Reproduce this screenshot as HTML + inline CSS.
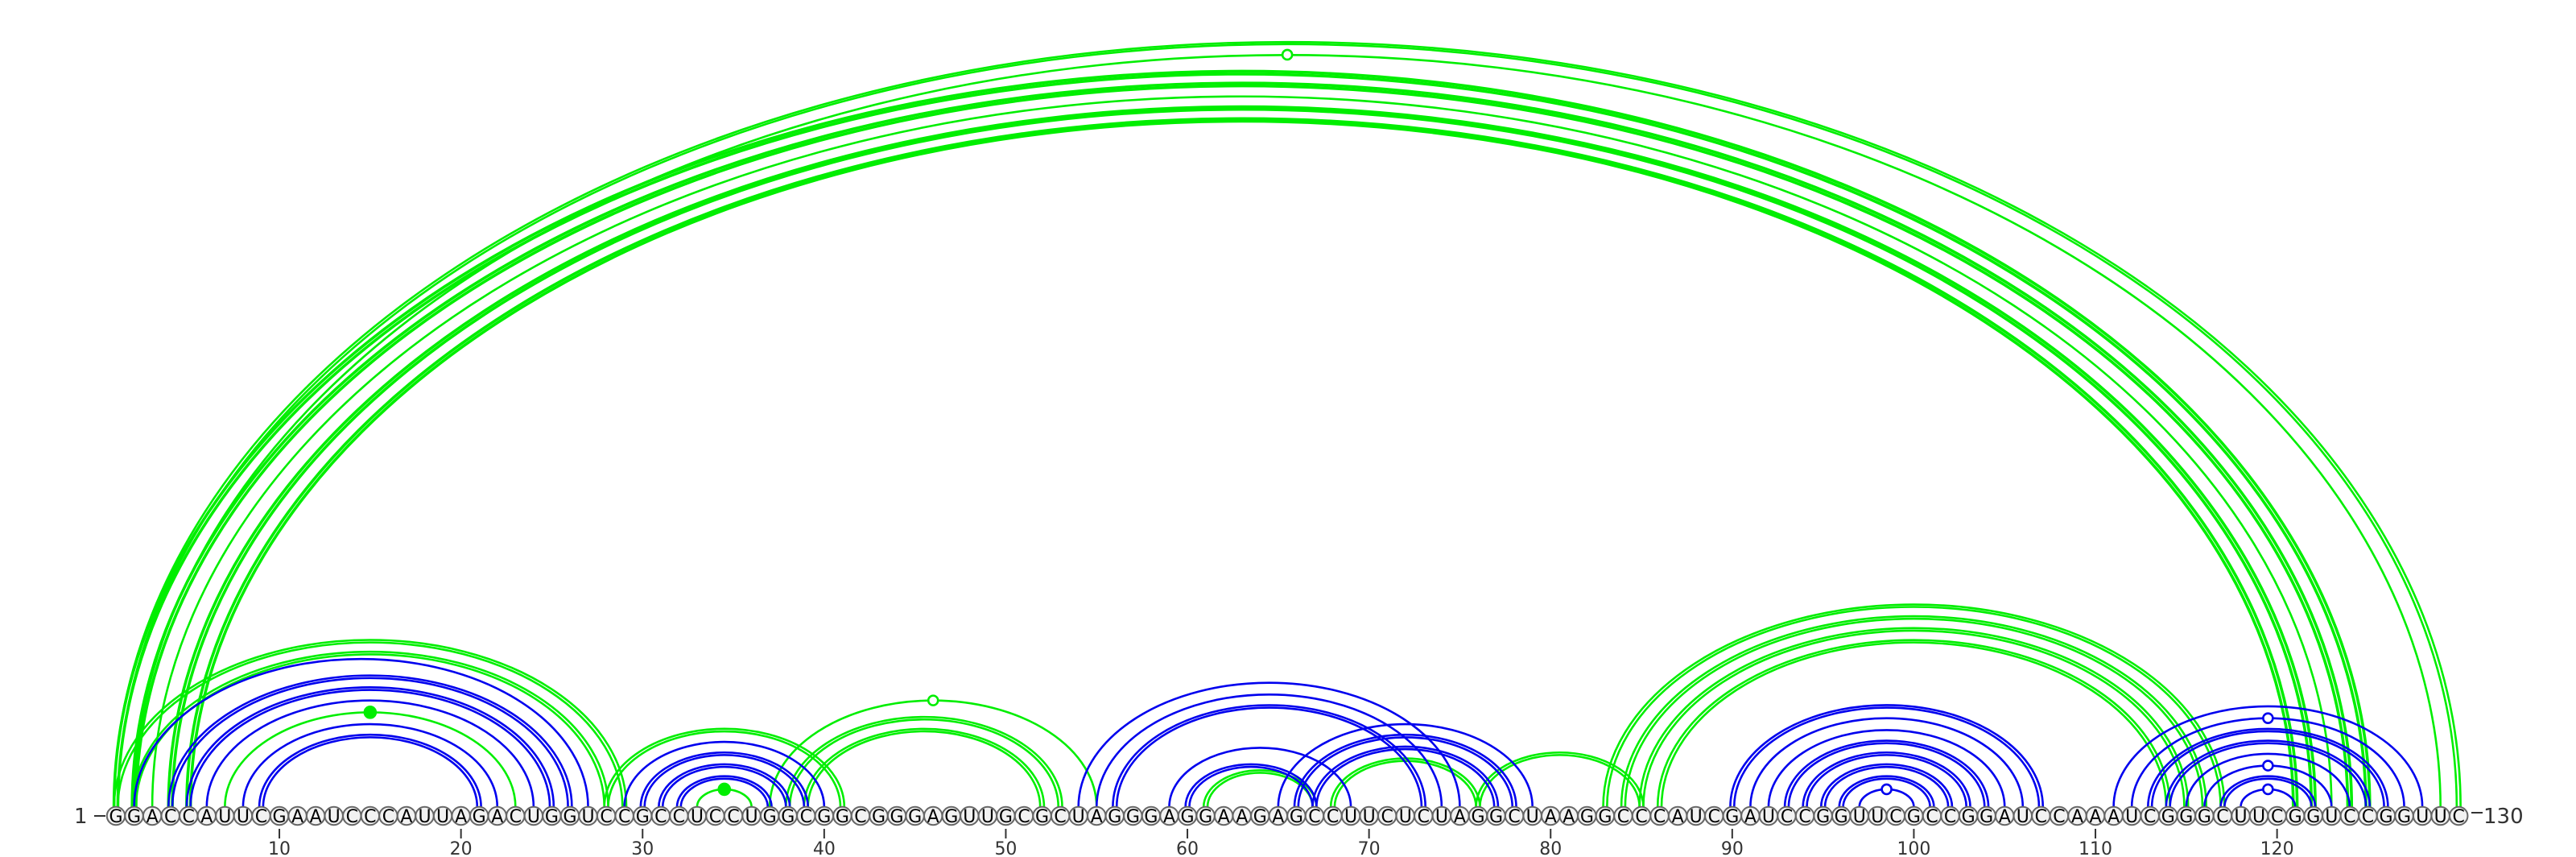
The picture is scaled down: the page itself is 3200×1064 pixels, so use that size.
<!DOCTYPE html>
<html>
<head>
<meta charset="utf-8">
<style>
  html,body{margin:0;padding:0;background:#fff;}
  svg{display:block;}
  text{font-family:"DejaVu Sans","Liberation Sans",sans-serif;}
</style>
</head>
<body>
<svg id="chart" xmlns="http://www.w3.org/2000/svg" width="3200" height="1064" viewBox="0 0 3200 1064">
  <g id="arcs"></g>
  <g id="markers"></g>
  <g id="axis"></g>
  <g id="nts"></g>
</svg>
<script>
const sequence = "GGACCAUUCGAAUCCCAUUAGACUGGUCCGCCUCCUGGCGGCGGGAGUUGCGCUAGGGAGGAAGAGCCUUCUCUAGGCUAAGGCCCAUCGAUCCGGUUCGCCGGAUCCAAAUCGGGCUUCGGUCCGGUUC";
const tickPositions = [10,20,30,40,50,60,70,80,90,100,110,120];
const tickLabels = ["10","20","30","40","50","60","70","80","90","100","110","120"];

// arcs: start, end, color (g/b), double (0/1), thick (0/1), marker
const arcStart = [1,2,1,2,3,4,5, 1,2,7,28,33,37,38,39,61,68,76,83,84,85,86,
  2,4,5,6,8,9, 29,30,31,32, 54,55,56,59,60,65,66,67, 90,91,92,93,94,95,96,97, 111,112,113,114,115,116,117,118];
const arcEnd = [130,129,125,124,123,122,121, 29,28,23,41,36,55,53,52,67,76,85,117,116,115,114,
  27,26,25,24,22,21, 40,39,38,37, 75,74,73,69,67,79,78,77, 107,106,105,104,103,102,101,100, 128,127,126,125,124,123,122,121];
const arcColor = ["g","g","g","g","g","g","g", "g","g","g","g","g","g","g","g","g","g","g","g","g","g","g",
  "b","b","b","b","b","b", "b","b","b","b", "b","b","b","b","b","b","b","b", "b","b","b","b","b","b","b","b", "b","b","b","b","b","b","b","b"];
const arcDouble = [1,0,1,1,0,1,1, 1,1,0,1,0,0,1,1,1,1,1,1,1,1,1,
  0,1,1,0,0,1, 0,1,1,1, 0,0,1,0,1,0,1,1, 1,0,0,1,1,1,1,0, 0,0,1,1,0,0,1,0];
const arcThick = [0,0,1,1,0,1,1, 0,0,0,0,0,0,0,0,0,0,0,0,0,0,0,
  0,0,0,0,0,0, 0,0,0,0, 0,0,0,0,0,0,0,0, 0,0,0,0,0,0,0,0, 0,0,0,0,0,0,0,0];
const arcMarker = ["","open","","","","","", "","","filled","","filled","open","","","","","","","","","",
  "","","","","","", "","","","", "","","","","","","","", "","","","","","","","open", "","open","","","","open","","open"];

const X0 = 144, DX = 22.56, Y0 = 1002, YC = 1013, RATIO = 0.652;
const COLORS = {g:"#00ee00", b:"#0000ee"};
function xScale(i){ return X0 + (i-1)*DX; }
const NS = "http://www.w3.org/2000/svg";
const arcsG = document.getElementById('arcs');
const markG = document.getElementById('markers');
const axisG = document.getElementById('axis');
const ntG = document.getElementById('nts');

function arcPath(x1,x2){
  const rx=(x2-x1)/2, ry=rx*RATIO;
  return `M${x1},${Y0} A${rx},${ry} 0 0 1 ${x2},${Y0}`;
}

for(let k=0;k<arcStart.length;k++){
  const x1=xScale(arcStart[k]), x2=xScale(arcEnd[k]);
  const col=COLORS[arcColor[k]];
  const sw=arcThick[k]?3.6:2.6;
  const offs=arcDouble[k]?[-2.4,2.4]:[0];
  offs.forEach(o=>{
    const p=document.createElementNS(NS,'path');
    p.setAttribute('d',arcPath(x1+o,x2-o));
    p.setAttribute('fill','none');
    p.setAttribute('stroke',col);
    p.setAttribute('stroke-width',sw);
    
    
    arcsG.appendChild(p);
  });
  if(arcMarker[k]){
    const cx=(x1+x2)/2, ry=(x2-x1)/2*RATIO;
    const c=document.createElementNS(NS,'circle');
    c.setAttribute('cx',cx); c.setAttribute('cy',Y0-ry); c.setAttribute('r',arcMarker[k]==='open'?6:7);
    c.setAttribute('fill',arcMarker[k]==='open'?'#fff':col);
    c.setAttribute('stroke',col); c.setAttribute('stroke-width',2.6);
    
    
    markG.appendChild(c);
  }
}

// ticks
for(let t=0;t<tickPositions.length;t++){
  const x=xScale(tickPositions[t]);
  const l=document.createElementNS(NS,'line');
  l.setAttribute('x1',x);l.setAttribute('x2',x);l.setAttribute('y1',1029);l.setAttribute('y2',1041);
  l.setAttribute('stroke','#333');l.setAttribute('stroke-width',2);
  
  
  axisG.appendChild(l);
  const tx=document.createElementNS(NS,'text');
  tx.setAttribute('x',x);tx.setAttribute('y',1061);tx.setAttribute('text-anchor','middle');
  tx.setAttribute('font-size','22');tx.setAttribute('fill','#333');
  tx.textContent=tickLabels[t];
  
  
  axisG.appendChild(tx);
}
// end labels
const startLbl=document.createElementNS(NS,'text');
startLbl.setAttribute('x',92);startLbl.setAttribute('y',1022);startLbl.setAttribute('font-size','26');startLbl.setAttribute('fill','#333');
startLbl.textContent='1';


axisG.appendChild(startLbl);
const sl=document.createElementNS(NS,'line');
sl.setAttribute('x1',117);sl.setAttribute('x2',131);sl.setAttribute('y1',1013);sl.setAttribute('y2',1013);sl.setAttribute('stroke','#333');sl.setAttribute('stroke-width',2);


axisG.appendChild(sl);
const el=document.createElementNS(NS,'line');
el.setAttribute('x1',3070);el.setAttribute('x2',3084);el.setAttribute('y1',1009);el.setAttribute('y2',1009);el.setAttribute('stroke','#333');el.setAttribute('stroke-width',2);


axisG.appendChild(el);
const endLbl=document.createElementNS(NS,'text');
endLbl.setAttribute('x',3085);endLbl.setAttribute('y',1022);endLbl.setAttribute('font-size','26');endLbl.setAttribute('fill','#333');
endLbl.textContent='130';


axisG.appendChild(endLbl);

// nucleotides
for(let i=1;i<=sequence.length;i++){
  const x=xScale(i);
  const c=document.createElementNS(NS,'circle');
  c.setAttribute('cx',x);c.setAttribute('cy',YC);c.setAttribute('r',11.2);
  c.setAttribute('fill','#f2f2f2');c.setAttribute('stroke','#666');c.setAttribute('stroke-width',2);
  
  
  ntG.appendChild(c);
  const t=document.createElementNS(NS,'text');
  t.setAttribute('x',x);t.setAttribute('y',YC+8);t.setAttribute('text-anchor','middle');
  t.setAttribute('font-size','22');t.setAttribute('fill','#000');
  t.textContent=sequence[i-1];
  
  
  ntG.appendChild(t);
}
</script>
</body>
</html>
